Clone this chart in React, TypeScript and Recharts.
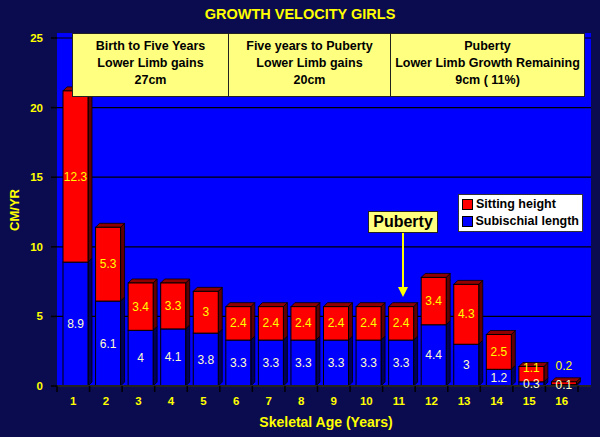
import React from 'react';
import { BarChart, Bar, XAxis, YAxis, CartesianGrid, LabelList, Legend } from 'recharts';

const ages = ['1', '2', '3', '4', '5', '6', '7', '8', '9', '10', '11', '12', '13', '14', '15', '16'];
const subischialLength = [8.9, 6.1, 4, 4.1, 3.8, 3.3, 3.3, 3.3, 3.3, 3.3, 3.3, 4.4, 3, 1.2, 0.3, 0.1];
const sittingHeight = [12.3, 5.3, 3.4, 3.3, 3, 2.4, 2.4, 2.4, 2.4, 2.4, 2.4, 3.4, 4.3, 2.5, 1.1, 0.2];
const yTicks = [0, 5, 10, 15, 20, 25];

const chartTitle = 'GROWTH VELOCITY GIRLS';
const xTitle = 'Skeletal Age (Years)';
const yTitle = 'CM/YR';
const phaseTexts = [
  ['Birth to Five Years', 'Lower Limb gains', '27cm'],
  ['Five years to Puberty', 'Lower Limb gains', '20cm'],
  ['Puberty', 'Lower Limb Growth Remaining', '9cm ( 11%)'],
];
const pubertyLabel = 'Puberty';

const data = ages.map((age, i) => ({ age, sub: subischialLength[i], sit: sittingHeight[i] }));

const FONT = '"Liberation Sans", Arial, Helvetica, sans-serif';
const NAVY = '#0b0b50';
const WALL = '#0000ff';
const YELLOW = '#ffff00';
const BOX = '#ffff80';

const W = 600;
const H = 437;
const M = { top: 38, right: 9, left: 5, bottom: 5 };
const Y_W = 52;
const X_H = 46;
const PAD_R = 13;
const PLOT_L = M.left + Y_W;
const PLOT_R = W - M.right;
const HALF_BAND = (PLOT_R - PAD_R - PLOT_L) / ages.length / 2;
const SHIFT = 2;

const make3D = (front: string, side: string, top: string, drawTop: boolean) => (props: any) => {
  const { x, y, width, height } = props;
  if (x == null || y == null || !width || height == null) return null;
  const d = 4;
  const X = x + SHIFT;
  return (
    <g>
      <polygon
        points={`${X + width},${y} ${X + width + d},${y - d} ${X + width + d},${y + height - d} ${X + width},${y + height}`}
        fill={side}
        stroke="#000"
        strokeWidth={0.8}
      />
      {drawTop && (
        <polygon
          points={`${X},${y} ${X + d},${y - d} ${X + width + d},${y - d} ${X + width},${y}`}
          fill={top}
          stroke="#000"
          strokeWidth={0.8}
        />
      )}
      <rect x={X} y={y} width={width} height={height} fill={front} stroke="#000" strokeWidth={1} />
    </g>
  );
};

const makeLabel = (color: string, isTop: boolean) => (props: any) => {
  const { x, y, width, height, value } = props;
  if (x == null || y == null) return null;
  let cy = y + height / 2;
  if (isTop && height < 8) cy = y - 16;
  else if (isTop && height < 20) cy = y + 1;
  return (
    <text
      x={x + SHIFT + width / 2}
      y={cy}
      textAnchor="middle"
      dominantBaseline="central"
      fill={color}
      fontSize={12}
      fontFamily={FONT}
    >
      {value}
    </text>
  );
};

const XTick = (props: any) => {
  const { x, y, payload, index } = props;
  return (
    <g>
      <line x1={x - HALF_BAND} y1={y - 8} x2={x - HALF_BAND} y2={y - 2} stroke="#000" strokeWidth={1.5} />
      {index === ages.length - 1 && (
        <line x1={x + HALF_BAND} y1={y - 8} x2={x + HALF_BAND} y2={y - 2} stroke="#000" strokeWidth={1.5} />
      )}
      <text x={x} y={y + 11} textAnchor="middle" fill={YELLOW} fontSize={11.5} fontWeight="bold" fontFamily={FONT}>
        {payload.value}
      </text>
    </g>
  );
};

const LegendBox = (props: any) => {
  const items = [...(props.payload || [])];
  return (
    <div
      style={{
        background: '#fff',
        border: '1px solid #333',
        padding: '1px 3px 1px 3px',
        width: 117,
        fontFamily: FONT,
        fontWeight: 'bold',
        fontSize: 12.5,
        color: '#000',
        lineHeight: '17px',
        whiteSpace: 'nowrap',
      }}
    >
      {items.map((it: any) => (
        <div key={it.value} style={{ display: 'flex', alignItems: 'center' }}>
          <span
            style={{
              display: 'inline-block',
              width: 9,
              height: 9,
              background: it.color,
              border: '1px solid #000',
              marginRight: 3,
            }}
          />
          {it.value}
        </div>
      ))}
    </div>
  );
};

export default function App() {
  return (
    <div style={{ position: 'absolute', left: 0, top: 0, width: W, height: H, background: NAVY, overflow: 'hidden' }}>
      <div
        style={{
          position: 'absolute',
          left: PLOT_L,
          top: 33,
          width: PLOT_R - PLOT_L,
          height: 386 - 33,
          background: WALL,
        }}
      />
      <div
        style={{
          position: 'absolute',
          left: 0,
          top: 6,
          width: W,
          textAlign: 'center',
          color: YELLOW,
          fontFamily: FONT,
          fontWeight: 'bold',
          fontSize: 14.5,
        }}
      >
        {chartTitle}
      </div>
      <div style={{ position: 'absolute', left: 0, top: 0 }}>
        <BarChart width={W} height={H} data={data} margin={M} barSize={25}>
          <CartesianGrid horizontal vertical={false} stroke="#000" strokeWidth={1.2} />
          <XAxis
            dataKey="age"
            height={X_H}
            padding={{ left: 0, right: PAD_R }}
            axisLine={{ stroke: '#222', strokeWidth: 2 }}
            tickLine={false}
            tick={<XTick />}
            interval={0}
            label={{
              value: xTitle,
              position: 'insideBottom',
              offset: 5,
              fill: YELLOW,
              fontSize: 14,
              fontWeight: 'bold',
              fontFamily: FONT,
              dx: 2,
            }}
          />
          <YAxis
            width={Y_W}
            domain={[0, 25]}
            ticks={yTicks}
            interval={0}
            axisLine={false}
            tickLine={{ stroke: '#000', strokeWidth: 1.5 }}
            tickSize={6}
            tickMargin={8}
            tick={{ fill: YELLOW, fontSize: 11.5, fontWeight: 'bold', fontFamily: FONT }}
            label={{
              content: (p: any) => {
                const vb = p.viewBox || { x: 5, y: 38, height: 348 };
                const cx = vb.x + 9;
                const cy = vb.y + vb.height / 2 - 2;
                return (
                  <text
                    x={cx}
                    y={cy}
                    transform={`rotate(-90 ${cx} ${cy})`}
                    textAnchor="middle"
                    dominantBaseline="central"
                    fill={YELLOW}
                    fontSize={13}
                    fontWeight="bold"
                    fontFamily={FONT}
                  >
                    {yTitle}
                  </text>
                );
              },
            }}
          />
          <Legend
            layout="vertical"
            align="center"
            verticalAlign="middle"
            content={<LegendBox />}
            wrapperStyle={{ position: 'absolute', left: 458, top: 194, width: 126 }}
          />
          <Bar
            dataKey="sub"
            name="Subischial length"
            stackId="a"
            fill={WALL}
            shape={make3D(WALL, '#00005a', '#0000b0', false)}
            isAnimationActive={false}
          >
            <LabelList dataKey="sub" content={makeLabel('#ffffc8', false)} />
          </Bar>
          <Bar
            dataKey="sit"
            name="Sitting height"
            stackId="a"
            fill="#ff0000"
            shape={make3D('#ff0000', '#600000', '#900000', true)}
            isAnimationActive={false}
          >
            <LabelList dataKey="sit" content={makeLabel(YELLOW, true)} />
          </Bar>
        </BarChart>
      </div>
      <div
        style={{
          position: 'absolute',
          left: 72,
          top: 33,
          height: 62,
          display: 'flex',
          background: BOX,
          border: '1px solid #222',
          fontFamily: FONT,
          fontWeight: 'bold',
          fontSize: 12.5,
          color: '#000',
          lineHeight: '17px',
          whiteSpace: 'nowrap',
        }}
      >
        {phaseTexts.map((lines, i) => (
          <div
            key={i}
            style={{
              width: [155, 161, 193][i],
              borderLeft: i > 0 ? '1px solid #222' : 'none',
              textAlign: 'center',
              paddingTop: 4,
            }}
          >
            {lines.map((l) => (
              <div key={l}>{l}</div>
            ))}
          </div>
        ))}
      </div>
      <div
        style={{
          position: 'absolute',
          left: 368,
          top: 211,
          width: 68,
          height: 20,
          background: BOX,
          border: '1px solid #222',
          fontFamily: FONT,
          fontWeight: 'bold',
          fontSize: 16,
          color: '#000',
          textAlign: 'center',
          lineHeight: '20px',
        }}
      >
        {pubertyLabel}
      </div>
      <svg style={{ position: 'absolute', left: 0, top: 0 }} width={W} height={H} pointerEvents="none">
        <line x1={403} y1={233} x2={403} y2={290} stroke={YELLOW} strokeWidth={2} />
        <polygon points="398,287 408,287 403,297" fill={YELLOW} />
      </svg>
    </div>
  );
}
